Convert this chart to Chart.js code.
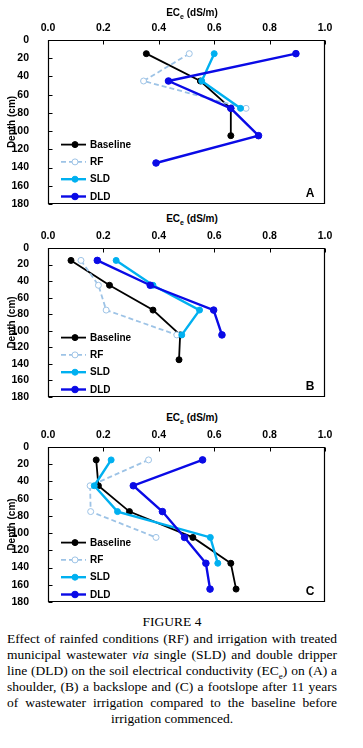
<!DOCTYPE html>
<html>
<head>
<meta charset="utf-8">
<script src="https://cdn.jsdelivr.net/npm/chart.js@4.4.0/dist/chart.umd.min.js"></script>
<style>
  body { margin: 0; background: #fff; width: 363px; height: 748px; position: relative; overflow: hidden; }
  canvas { position: absolute; left: 0; }
  .xtitle { position: absolute; left: 142px; width: 100px; text-align: center; font: bold 10px Arial, 'Liberation Sans', sans-serif; color: #000; line-height: 12px; }
  .xtitle sub { font-size: 7px; line-height: 0; }
  .cap { position: absolute; left: 7px; width: 330px; font-family: 'Liberation Serif', 'Times New Roman', serif; font-size: 13.5px; line-height: 16px; color: #000; white-space: nowrap; text-align: justify; text-align-last: justify; }
  .cap.center { text-align: center; text-align-last: center; }
  .cap sub { font-size: 9px; line-height: 0; }
</style>
</head>
<body>
<canvas id="chartA"></canvas>
<canvas id="chartB"></canvas>
<canvas id="chartC"></canvas>
<div class="xtitle" style="top:7px">EC<sub>e</sub> (dS/m)</div>
<div class="xtitle" style="top:213px">EC<sub>e</sub> (dS/m)</div>
<div class="xtitle" style="top:412px">EC<sub>e</sub> (dS/m)</div>

<div class="cap center" style="top:614px">FIGURE 4</div>
<div class="cap" style="top:631px">Effect of rainfed conditions (RF) and irrigation with treated</div>
<div class="cap" style="top:647px">municipal wastewater <i>via</i> single (SLD) and double dripper</div>
<div class="cap" style="top:663px">line (DLD) on the soil electrical conductivity (EC<sub>e</sub>) on (A) a</div>
<div class="cap" style="top:679px">shoulder, (B) a backslope and (C) a footslope after 11 years</div>
<div class="cap" style="top:695px">of wastewater irrigation compared to the baseline before</div>
<div class="cap center" style="top:711px">irrigation commenced.</div>

<script>
// depths (cm) of the sampled layers
const depths = [15, 45, 75, 105, 135, 165];
const seriesNames = ['Baseline', 'RF', 'SLD', 'DLD'];

// A - shoulder
const baselineA = [0.355, 0.55, 0.66, 0.66];
const rfA = [0.51, 0.345, 0.715];
const sldA = [0.60, 0.555, 0.695];
const dldA = [0.895, 0.435, 0.66, 0.76, 0.39];

// B - backslope
const baselineB = [0.083, 0.222, 0.379, 0.477, 0.473];
const rfB = [0.119, 0.182, 0.21, 0.465];
const sldB = [0.246, 0.379, 0.547, 0.483];
const dldB = [0.178, 0.369, 0.598, 0.628];

// C - footslope
const baselineC = [0.174, 0.182, 0.294, 0.523, 0.66, 0.679];
const rfC = [0.363, 0.152, 0.154, 0.39];
const sldC = [0.228, 0.167, 0.251, 0.586, 0.613];
const dldC = [0.558, 0.308, 0.413, 0.493, 0.57, 0.585];

const styles = {
  Baseline: { color: '#000000', width: 1.8, dash: [], fill: '#000000', radius: 3, order: 3 },
  RF: { color: '#9dc3e6', width: 1.8, dash: [5, 3], fill: '#ffffff', radius: 3, order: 2 },
  SLD: { color: '#00b0f0', width: 2.4, dash: [], fill: '#00b0f0', radius: 3, order: 1 },
  DLD: { color: '#0a0ae6', width: 2.4, dash: [], fill: '#0a0ae6', radius: 3.3, order: 0 }
};

const FONT = "Arial, 'Liberation Sans', sans-serif";

function toPoints(values) {
  return values.map((v, i) => ({ x: v, y: depths[i] }));
}

// box, inward tick marks, legend inside the plot and panel letter
const panelDecor = {
  id: 'panelDecor',
  afterDraw(chart, args, opts) {
    const { ctx, chartArea: a, scales } = chart;
    const l = Math.round(a.left) + 0.5, t = Math.round(a.top) + 0.5;
    const r = Math.round(a.right) - 0.5, b = Math.round(a.bottom) - 0.5;
    ctx.save();
    ctx.setLineDash([]);
    ctx.strokeStyle = '#000';
    ctx.lineWidth = 1.2;
    ctx.beginPath();
    ctx.moveTo(l, t);
    ctx.lineTo(r, t);
    ctx.lineTo(r, b);
    ctx.lineTo(l, b);
    ctx.closePath();
    ctx.stroke();
    ctx.lineWidth = 1;
    scales.x.ticks.forEach(tk => {
      const px = Math.round(scales.x.getPixelForValue(tk.value)) + 0.5;
      ctx.beginPath();
      ctx.moveTo(px, t);
      ctx.lineTo(px, t + 4);
      ctx.stroke();
    });
    scales.y.ticks.forEach(tk => {
      const py = Math.round(scales.y.getPixelForValue(tk.value)) + 0.5;
      ctx.beginPath();
      ctx.moveTo(l, py);
      ctx.lineTo(l + 4, py);
      ctx.stroke();
    });

    // legend
    ctx.font = 'bold 10px ' + FONT;
    ctx.textBaseline = 'middle';
    ctx.textAlign = 'left';
    seriesNames.forEach((name, i) => {
      const s = styles[name];
      const y = a.bottom - 7.5 - (seriesNames.length - 1 - i) * 17.3;
      ctx.strokeStyle = s.color;
      ctx.lineWidth = s.width;
      ctx.setLineDash(s.dash);
      ctx.beginPath();
      ctx.moveTo(a.left + 13, y);
      ctx.lineTo(a.left + 38, y);
      ctx.stroke();
      ctx.setLineDash([]);
      ctx.beginPath();
      ctx.arc(a.left + 27, y, s.radius, 0, Math.PI * 2);
      ctx.fillStyle = s.fill;
      ctx.fill();
      ctx.lineWidth = 1;
      ctx.stroke();
      ctx.fillStyle = '#000';
      ctx.fillText(name, a.left + 42, y + 0.5);
    });

    ctx.font = 'bold 12px ' + FONT;
    ctx.textAlign = 'center';
    ctx.fillText(opts.letter, a.right - 15, a.bottom - 10);
    ctx.restore();
  }
};

// canvasTop: page offset of the canvas; the band above the plot holds the top tick labels
function makePanel(id, canvasTop, plotTop, plotBottom, letter, sets) {
  const canvas = document.getElementById(id);
  const band = plotTop - canvasTop;
  const height = plotBottom - canvasTop + 8;
  canvas.width = 363;
  canvas.height = height;
  canvas.style.top = canvasTop + 'px';
  canvas.style.width = '363px';
  canvas.style.height = height + 'px';

  const datasets = seriesNames.map((name, i) => {
    const s = styles[name];
    return {
      label: name,
      data: toPoints(sets[i]),
      showLine: true,
      borderColor: s.color,
      borderWidth: s.width,
      borderDash: s.dash,
      pointRadius: s.radius,
      pointBorderWidth: 1,
      pointBackgroundColor: s.fill,
      pointBorderColor: s.color,
      order: s.order,
      tension: 0
    };
  });

  new Chart(canvas.getContext('2d'), {
    type: 'scatter',
    data: { datasets },
    options: {
      responsive: false,
      maintainAspectRatio: false,
      devicePixelRatio: 1,
      animation: false,
      events: [],
      layout: { padding: { top: 0, left: 0, right: 38, bottom: 8 } },
      plugins: {
        legend: { display: false },
        tooltip: { enabled: false },
        panelDecor: { letter }
      },
      scales: {
        x: {
          type: 'linear',
          position: 'top',
          min: 0,
          max: 1,
          afterFit: s => { s.height = band; },
          grid: { display: false, drawTicks: false },
          border: { display: false },
          ticks: {
            stepSize: 0.2,
            padding: 6,
            color: '#000',
            font: { family: FONT, size: 10.5, weight: 'bold' },
            callback: v => v.toFixed(1)
          }
        },
        y: {
          type: 'linear',
          reverse: true,
          min: 0,
          max: 180,
          afterFit: s => { s.width = 48; s.paddingTop = 0; s.paddingBottom = 0; },
          grid: { display: false, drawTicks: false },
          border: { display: false },
          title: {
            display: true,
            text: 'Depth (cm)',
            color: '#000',
            padding: 6.4,
            font: { family: FONT, size: 10, weight: 'bold' }
          },
          ticks: {
            stepSize: 20,
            padding: 19,
            color: '#000',
            font: { family: FONT, size: 10.5, weight: 'bold' }
          }
        }
      }
    },
    plugins: [panelDecor]
  });
}

makePanel('chartA', 0, 40, 204, 'A', [baselineA, rfA, sldA, dldA]);
makePanel('chartB', 228, 248, 397, 'B', [baselineB, rfB, sldB, dldB]);
makePanel('chartC', 427, 447, 602, 'C', [baselineC, rfC, sldC, dldC]);
</script>
</body>
</html>
